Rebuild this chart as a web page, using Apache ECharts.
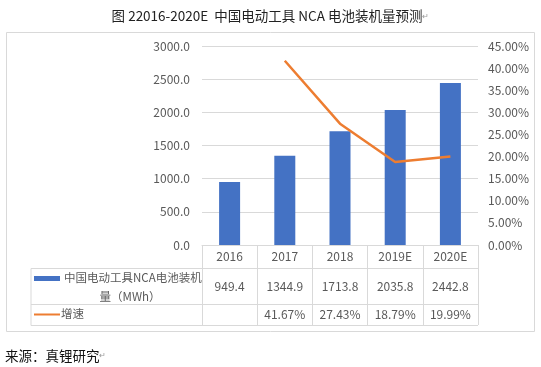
<!DOCTYPE html>
<html><head><meta charset="utf-8">
<script src="https://cdn.jsdelivr.net/npm/echarts@6/dist/echarts.min.js"></script>
<style>html,body{margin:0;padding:0;background:#fff}#c{width:541px;height:367px}</style>
</head><body><div id="c"></div>
<script>
const categories = ['2016', '2017', '2018', '2019E', '2020E'];
const capacity = [949.4, 1344.9, 1713.8, 2035.8, 2442.8];
const growth = [null, 41.67, 27.43, 18.79, 19.99];
const leftTicks = {min: 0, max: 3000, interval: 500};
const rightTicks = {min: 0, max: 45, interval: 5};
const barName = '中国电动工具NCA电池装机量（MWh）';
const lineName = '增速';

const FONT = '"Noto Sans CJK SC", "Microsoft YaHei", sans-serif';
const GRAY = '#595959';
const GRID = '#d9d9d9';

const chart = echarts.init(document.getElementById('c'), null, {renderer: 'canvas'});
chart.setOption({
  backgroundColor: '#fff',
  animation: false,
  textStyle: {fontFamily: FONT},
  title: {
    text: '图 22016-2020E  中国电动工具 NCA 电池装机量预测{r|↵}',
    left: 'center', top: 4,
    textStyle: {fontSize: 13.5, fontWeight: 'normal', color: '#222', fontFamily: FONT,
      rich: {r: {fontSize: 8, color: '#999'}}}
  },
  grid: {left: 202, right: 63, top: 46, bottom: 122, containLabel: false},
  xAxis: {
    type: 'category', data: categories,
    axisLine: {show: true, lineStyle: {color: GRID, width: 1}},
    axisTick: {show: true, length: 80, lineStyle: {color: GRID}},
    axisLabel: {
      margin: 0, interval: 0, color: GRAY, fontSize: 12,
      formatter: function (v, i) {
        const g = growth[i] == null ? ' ' : growth[i].toFixed(2) + '%';
        return '{y|' + v + '}\n{v|' + capacity[i].toFixed(1) + '}\n{g|' + g + '}';
      },
      rich: {
        y: {lineHeight: 23, fontSize: 12, color: GRAY, fontFamily: FONT},
        v: {lineHeight: 36, fontSize: 12, color: GRAY, fontFamily: FONT},
        g: {lineHeight: 21, fontSize: 12, color: GRAY, fontFamily: FONT}
      }
    }
  },
  yAxis: [
    {type: 'value', min: leftTicks.min, max: leftTicks.max, interval: leftTicks.interval,
      axisLine: {show: false}, axisTick: {show: false},
      axisLabel: {color: GRAY, fontSize: 12, margin: 12, formatter: v => v.toFixed(1)},
      splitLine: {lineStyle: {color: GRID}}},
    {type: 'value', min: rightTicks.min, max: rightTicks.max, interval: rightTicks.interval,
      axisLine: {show: false}, axisTick: {show: false},
      axisLabel: {color: GRAY, fontSize: 12, margin: 10, formatter: v => v.toFixed(2) + '%'},
      splitLine: {show: false}}
  ],
  series: [
    {name: barName, type: 'bar', data: capacity, barWidth: 21,
      itemStyle: {color: '#4472C4'}},
    {name: lineName, type: 'line', yAxisIndex: 1, data: growth.map(v => v == null ? '-' : v),
      symbol: 'none', lineStyle: {color: '#ED7D31', width: 2.5}, itemStyle: {color: '#ED7D31'}}
  ],
  graphic: [
    {type: 'rect', shape: {x: 6.5, y: 32.5, width: 528, height: 299}, style: {fill: 'none', stroke: GRID, lineWidth: 1}, z: -1},
    {type: 'line', shape: {x1: 31, y1: 268.5, x2: 478, y2: 268.5}, style: {stroke: GRID, lineWidth: 1}},
    {type: 'line', shape: {x1: 31, y1: 304.5, x2: 478, y2: 304.5}, style: {stroke: GRID, lineWidth: 1}},
    {type: 'line', shape: {x1: 31, y1: 325.5, x2: 478, y2: 325.5}, style: {stroke: GRID, lineWidth: 1}},
    {type: 'line', shape: {x1: 31, y1: 268.5, x2: 31, y2: 325.5}, style: {stroke: GRID, lineWidth: 1}},
    {type: 'rect', shape: {x: 34, y: 276, width: 26, height: 5}, style: {fill: '#4472C4'}},
    {type: 'text', x: 64, y: 278, style: {text: '中国电动工具NCA电池装机', fill: GRAY, fontSize: 11.5, fontFamily: FONT, verticalAlign: 'middle'}},
    {type: 'text', x: 130, y: 297, style: {text: '量（MWh）', fill: GRAY, fontSize: 11.5, fontFamily: FONT, align: 'center', verticalAlign: 'middle'}},
    {type: 'line', shape: {x1: 34, y1: 314.5, x2: 60, y2: 314.5}, style: {stroke: '#ED7D31', lineWidth: 2}},
    {type: 'text', x: 61, y: 314, style: {text: lineName, fill: GRAY, fontSize: 11.5, fontFamily: FONT, verticalAlign: 'middle'}},
    {type: 'text', x: 5, y: 356, style: {text: '来源：真锂研究{r|↵}', fill: '#111', fontSize: 13.5, fontFamily: FONT, verticalAlign: 'middle',
      rich: {r: {fontSize: 8, fill: '#999'}}}}
  ]
});
</script></body></html>
